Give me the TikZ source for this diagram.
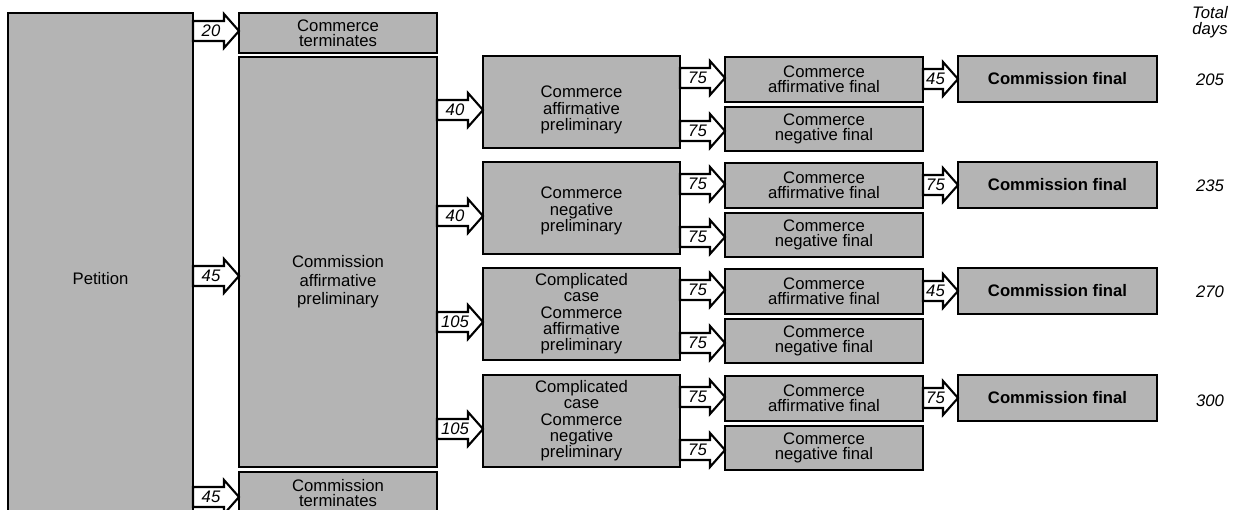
\documentclass[tikz,border=0pt]{standalone}
\usepackage{fontspec}
\setmainfont{Liberation Sans}
\usetikzlibrary{calc}
\definecolor{boxgray}{RGB}{180,180,180}
\tikzset{
  box/.style={draw=black, line width=1.2pt, fill=boxgray, rectangle, inner sep=0pt, outer sep=0pt},
  boxtext/.style={align=center, inner sep=0pt, font=\fontsize{9.5}{#1}\selectfont},
  arr/.style={draw=black, line width=1.2pt, fill=white, line join=miter},
  arrlabel/.style={font=\fontsize{9.5}{10}\selectfont\itshape, inner sep=0pt},
  total/.style={font=\fontsize{9.5}{9}\selectfont\itshape, align=center, inner sep=0pt},
}
% name, x1, y1, x2, y2, text shift, baselineskip, text
\newcommand\bx[8]{%
  \node[box, minimum width={(#4-#2)*0.02cm}, minimum height={(#5-#3)*0.02cm}] (#1) at ({(#2+#4)/2},{(#3+#5)/2}) {};
  \node[boxtext=#7] (#1-t) at ($(#1.center)+(0,#6)$) {#8};
}
% from, to, y, label
\newcommand\barrow[4]{%
  \coordinate (#1-#2-t) at (#1.east |- 0,#3);
  \coordinate (#1-#2-h) at (#2.west |- 0,#3);
  \draw[arr] ($(#1-#2-t)+(0,-10)$) -- ($(#1-#2-h)+(-15,-10)$) -- ($(#1-#2-h)+(-15,-17)$) -- (#1-#2-h)
     -- ($(#1-#2-h)+(-15,17)$) -- ($(#1-#2-h)+(-15,10)$) -- ($(#1-#2-t)+(0,10)$) -- cycle;
  \node[arrlabel] (#1-#2-l) at ($(#1-#2-t)!0.5!(#1-#2-h)+(-5,0)$) {#4};
}
\begin{document}
\begin{tikzpicture}[x=0.02cm,y=-0.02cm]
\useasboundingbox (0,0) rectangle (1234,510);
\clip (0,0) rectangle (1234,510);

% column 0 and 1
\bx{pet}{8}{13}{193}{545}{0}{10}{Petition}
\bx{ct}{239}{13}{437}{53}{0}{8.5}{Commerce\\terminates}
\bx{cap}{239}{57}{437}{467}{20}{10.5}{Commission\\affirmative\\preliminary}
\bx{cmt}{239}{472}{437}{514}{0}{8.5}{Commission\\terminates}

% column 2
\bx{p1}{483}{56}{680}{148}{8}{9.6}{Commerce\\affirmative\\preliminary}
\bx{p2}{483}{162}{680}{254}{3}{9.6}{Commerce\\negative\\preliminary}
\bx{p3}{483}{268}{680}{360}{0}{9.3}{Complicated\\case\\Commerce\\affirmative\\preliminary}
\bx{p4}{483}{375}{680}{467}{0}{9.3}{Complicated\\case\\Commerce\\negative\\preliminary}

% column 3
\bx{a1}{725}{57}{923}{102}{0}{8.5}{Commerce\\affirmative final}
\bx{n1}{725}{107}{923}{151}{0}{8.5}{Commerce\\negative final}
\bx{a2}{725}{163}{923}{208}{0}{8.5}{Commerce\\affirmative final}
\bx{n2}{725}{213}{923}{257}{0}{8.5}{Commerce\\negative final}
\bx{a3}{725}{269}{923}{314}{0}{8.5}{Commerce\\affirmative final}
\bx{n3}{725}{319}{923}{363}{0}{8.5}{Commerce\\negative final}
\bx{a4}{725}{376}{923}{421}{0}{8.5}{Commerce\\affirmative final}
\bx{n4}{725}{426}{923}{470}{0}{8.5}{Commerce\\negative final}

% column 4
\bx{f1}{958}{56}{1157}{102}{0}{10}{\bfseries Commission final}
\bx{f2}{958}{162}{1157}{208}{0}{10}{\bfseries Commission final}
\bx{f3}{958}{268}{1157}{314}{0}{10}{\bfseries Commission final}
\bx{f4}{958}{375}{1157}{421}{0}{10}{\bfseries Commission final}

% arrows
\barrow{pet}{ct}{31}{20}
\barrow{pet}{cap}{276}{45}
\barrow{pet}{cmt}{497}{45}
\barrow{cap}{p1}{110}{40}
\barrow{cap}{p2}{216}{40}
\barrow{cap}{p3}{322}{105}
\barrow{cap}{p4}{429}{105}
\barrow{p1}{a1}{78}{75}
\barrow{p1}{n1}{131}{75}
\barrow{a1}{f1}{79}{45}
\barrow{p2}{a2}{184}{75}
\barrow{p2}{n2}{237}{75}
\barrow{a2}{f2}{185}{75}
\barrow{p3}{a3}{290}{75}
\barrow{p3}{n3}{343}{75}
\barrow{a3}{f3}{291}{45}
\barrow{p4}{a4}{397}{75}
\barrow{p4}{n4}{450}{75}
\barrow{a4}{f4}{398}{75}

% totals
\node[total] (tot) at (1210,22) {Total\\days};
\node[total] (d1) at (1210,80) {205};
\node[total] (d2) at (1210,186) {235};
\node[total] (d3) at (1210,292) {270};
\node[total] (d4) at (1210,401) {300};
\end{tikzpicture}
\end{document}
